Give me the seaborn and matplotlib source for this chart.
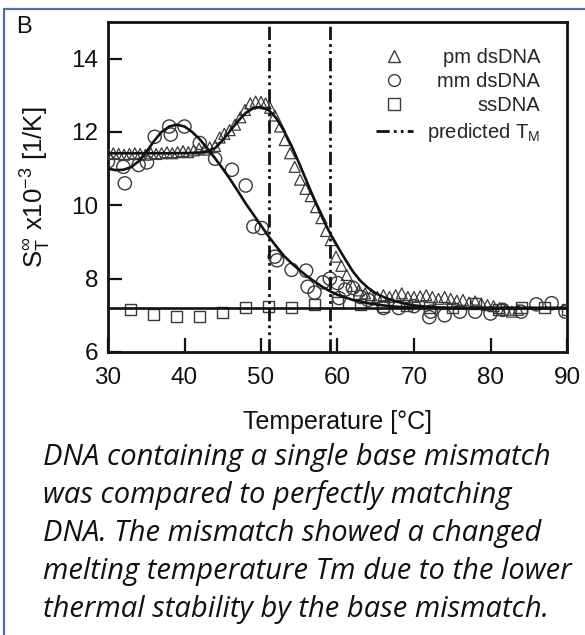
import matplotlib
matplotlib.use("Agg")
import matplotlib.pyplot as plt
from matplotlib.lines import Line2D
import seaborn as sns
import pandas as pd

# ---------------- data ----------------
pm_T = [30.0, 30.7, 31.4, 32.1, 32.8, 33.5, 34.2, 34.9, 35.6, 36.3, 37.0, 37.7, 38.4, 39.1,
        39.8, 40.5, 41.2, 41.9, 42.6, 43.3, 44.0, 44.6, 45.2, 45.9, 46.6, 47.3, 47.9, 48.6,
        49.3, 50.0, 50.6, 51.2, 51.8, 52.5, 53.1, 53.8, 54.4, 55.1, 55.8, 56.5, 57.2, 57.9,
        58.5, 59.1, 59.8, 60.5, 61.2, 62.0, 62.8, 63.6, 64.4, 65.2, 66.0, 66.8, 67.6, 68.4,
        69.2, 70.0, 70.8, 71.6, 72.4, 73.2, 74.0, 74.8, 75.6, 76.4, 77.2, 78.0, 78.8, 79.6,
        80.4, 81.2, 82.0, 82.8, 83.6]
pm_S = [11.40, 11.42, 11.40, 11.38, 11.40, 11.42, 11.40, 11.38, 11.42, 11.40, 11.42, 11.45,
        11.42, 11.45, 11.48, 11.45, 11.50, 11.55, 11.52, 11.58, 11.62, 11.85, 11.95, 12.05,
        12.20, 12.40, 12.60, 12.78, 12.83, 12.82, 12.78, 12.66, 12.45, 12.15, 11.78, 11.42,
        11.05, 10.70, 10.45, 10.25, 9.95, 9.65, 9.30, 9.05, 8.60, 8.35, 8.10, 7.80, 7.68,
        7.60, 7.55, 7.50, 7.55, 7.50, 7.55, 7.60, 7.50, 7.50, 7.52, 7.55, 7.50, 7.45, 7.50,
        7.45, 7.40, 7.42, 7.35, 7.38, 7.32, 7.28, 7.25, 7.20, 7.15, 7.10, 7.15]

mm_T = [30.0, 32.0, 32.2, 34.0, 35.1, 36.1, 38.0, 38.2, 40.0, 42.0, 44.0, 46.2, 48.0, 49.0,
        50.1, 51.8, 52.1, 54.0, 55.9, 56.1, 57.0, 58.1, 59.0, 60.0, 60.2, 61.0, 62.0, 63.0,
        64.0, 66.0, 68.0, 70.0, 72.0, 72.2, 74.0, 76.0, 78.0, 80.0, 81.6, 84.0, 86.0, 88.0,
        89.8]
mm_S = [11.20, 11.05, 10.60, 11.10, 11.17, 11.87, 12.15, 11.93, 12.15, 11.70, 11.27, 10.97,
        10.54, 9.42, 9.38, 8.60, 8.50, 8.24, 8.22, 7.78, 7.62, 7.90, 8.00, 7.88, 7.47, 7.70,
        7.75, 7.50, 7.42, 7.20, 7.20, 7.25, 6.95, 7.10, 7.00, 7.10, 7.10, 7.05, 7.15, 7.10,
        7.30, 7.33, 7.10]

ss_T = [33, 36, 39, 42, 45, 48, 51, 54, 57, 60, 63, 66, 69, 72, 75, 78, 81, 84, 87, 90]
ss_S = [7.15, 7.02, 6.96, 6.98, 7.07, 7.22, 7.24, 7.22, 7.30, 7.35, 7.30, 7.25, 7.28, 7.22,
        7.20, 7.32, 7.17, 7.22, 7.22, 7.17]

pm_fit_T = [30, 34, 38, 41, 42, 43, 44, 45, 46, 47, 48, 49, 50, 51, 52, 53, 54, 55, 56, 57,
            58, 59, 60, 61, 62, 63, 64, 65, 66, 67, 68, 69, 70, 72, 75, 80, 90]
pm_fit_S = [11.42, 11.42, 11.42, 11.43, 11.44, 11.47, 11.56, 11.78, 12.04, 12.30, 12.52,
            12.65, 12.68, 12.60, 12.38, 12.03, 11.62, 11.14, 10.64, 10.14, 9.67, 9.25, 8.88,
            8.53, 8.20, 7.94, 7.75, 7.60, 7.50, 7.42, 7.36, 7.31, 7.27, 7.23, 7.20, 7.20, 7.20]

mm_fit_T = [30, 31, 32, 33, 34, 35, 36, 37, 38, 39, 40, 41, 42, 43, 44, 45, 46, 47, 48, 49,
            50, 51, 52, 53, 54, 55, 56, 57, 58, 59, 60, 62, 64, 66, 68, 70, 75, 90]
mm_fit_S = [11.00, 10.96, 10.97, 11.04, 11.20, 11.45, 11.75, 12.00, 12.15, 12.20, 12.15,
            12.00, 11.80, 11.55, 11.28, 11.00, 10.70, 10.38, 10.05, 9.75, 9.45, 9.15, 8.88,
            8.62, 8.42, 8.24, 8.07, 7.92, 7.78, 7.66, 7.56, 7.42, 7.33, 7.27, 7.23, 7.21,
            7.20, 7.20]

ss_fit_T = [30, 90]
ss_fit_S = [7.20, 7.20]

predicted_TM = [51, 59]

x_ticks = [30, 40, 50, 60, 70, 80, 90]
y_ticks = [6, 8, 10, 12, 14]

legend_labels = ["pm dsDNA", "mm dsDNA", "ssDNA", r"predicted T$_\mathregular{M}$"]
caption_lines = [
    "DNA containing a single base mismatch",
    "was compared to perfectly matching",
    "DNA. The mismatch showed a changed",
    "melting temperature Tm due to the lower",
    "thermal stability by the base mismatch.",
]

# ---------------- style ----------------
sns.set_theme(style="ticks")
plt.rcParams["font.family"] = ["Liberation Sans", "DejaVu Sans"]
plt.rcParams["mathtext.fontset"] = "custom"
plt.rcParams["mathtext.rm"] = "Liberation Sans"
plt.rcParams["mathtext.it"] = "Liberation Sans:italic"
plt.rcParams["mathtext.default"] = "regular"
plt.rcParams["lines.scale_dashes"] = False

W, H, DPI = 585, 635, 100
fig = plt.figure(figsize=(W / DPI, H / DPI), dpi=DPI)
fig.patch.set_facecolor("white")
ax = fig.add_axes([108 / W, 1 - 352 / H, (567 - 108) / W, (352 - 22) / H])

mk = "#3a3a3a"

pm_df = pd.DataFrame({"T": pm_T, "S": pm_S})
mm_df = pd.DataFrame({"T": mm_T, "S": mm_S})
ss_df = pd.DataFrame({"T": ss_T, "S": ss_S})

sns.scatterplot(data=ss_df, x="T", y="S", marker="s", s=62, color=mk, facecolor="none",
                edgecolor=mk, linewidth=1.0, ax=ax, zorder=3)
sns.scatterplot(data=mm_df, x="T", y="S", marker="o", s=90, color=mk, facecolor="none",
                edgecolor=mk, linewidth=1.0, ax=ax, zorder=3)
sns.scatterplot(data=pm_df, x="T", y="S", marker="^", s=62, color=mk, facecolor="none",
                edgecolor=mk, linewidth=0.9, ax=ax, zorder=3)

for fx, fy in [(pm_fit_T, pm_fit_S), (mm_fit_T, mm_fit_S), (ss_fit_T, ss_fit_S)]:
    sns.lineplot(x=fx, y=fy, color="#111111", linewidth=1.9, ax=ax, zorder=4)

dash_pat = (9.5, 3.0, 2.0, 3.0, 2.0, 3.0)
for tm in predicted_TM:
    ln = ax.axvline(tm, color="#111111", linewidth=2.0, zorder=5)
    ln.set_dashes(dash_pat)

ax.set_xlim(30, 90)
ax.set_ylim(6, 15)
ax.set_xticks(x_ticks)
ax.set_yticks(y_ticks)
ax.tick_params(direction="in", length=10, width=1.6, labelsize=17.5, colors="#111111")
ax.tick_params(axis="x", pad=11)
ax.tick_params(axis="y", pad=7)
for sp in ax.spines.values():
    sp.set_visible(True)
    sp.set_linewidth(2.0)
    sp.set_color("#111111")

ax.set_xlabel("Temperature [°C]", fontsize=18, labelpad=15, color="#111111")
ax.set_ylabel(r"S$_\mathregular{T}^{\infty}$ x10$^{-3}$ [1/K]", fontsize=18.5, labelpad=13,
              color="#111111")

handles = [
    Line2D([], [], ls="none", marker="^", ms=8, mfc="none", mec=mk, mew=1.0),
    Line2D([], [], ls="none", marker="o", ms=8.5, mfc="none", mec=mk, mew=1.0),
    Line2D([], [], ls="none", marker="s", ms=8, mfc="none", mec=mk, mew=1.0),
    Line2D([], [], color="#111111", lw=2.0, dashes=(9.5, 3.0, 2.0, 3.0, 2.0, 3.0)),
]
leg = ax.legend(handles, legend_labels, loc="upper right",
                bbox_to_anchor=((540 - 108) / 459, (352 - 48) / 330),
                frameon=False, fontsize=14.5, borderpad=0, borderaxespad=0,
                labelspacing=0.26, handlelength=1.8, handletextpad=0.7)

# panel label and frame
fig.text(16 / W, 1 - 33 / H, "B", fontsize=17, ha="left", va="baseline", color="#111111")
border = "#4f6fa5"
fig.add_artist(Line2D([4 / W, 4 / W], [0, 1 - 9 / H], color=border, lw=1.6,
                      transform=fig.transFigure))
fig.add_artist(Line2D([4 / W, 1], [1 - 9 / H, 1 - 9 / H], color=border, lw=1.6,
                      transform=fig.transFigure))

# caption: size chosen so the longest line spans the same width as the reference
cap_texts = []
for i, line in enumerate(caption_lines):
    cap_texts.append(fig.text(43 / W, 1 - (465 + 38 * i) / H, line, fontsize=18,
                              family="Open Sans", style="italic", ha="left",
                              va="baseline", color="#111111"))

fig.canvas.draw()
cw = max(t.get_window_extent().width for t in cap_texts)
target = 528.0
for t in cap_texts:
    t.set_fontsize(18 * target / cw)

# right-align legend texts
fig.canvas.draw()
widths = [t.get_window_extent().width for t in leg.get_texts()]
wmax = max(widths)
for t, w in zip(leg.get_texts(), widths):
    t.set_position((wmax - w, 0))

fig.savefig("out.png", dpi=DPI)
